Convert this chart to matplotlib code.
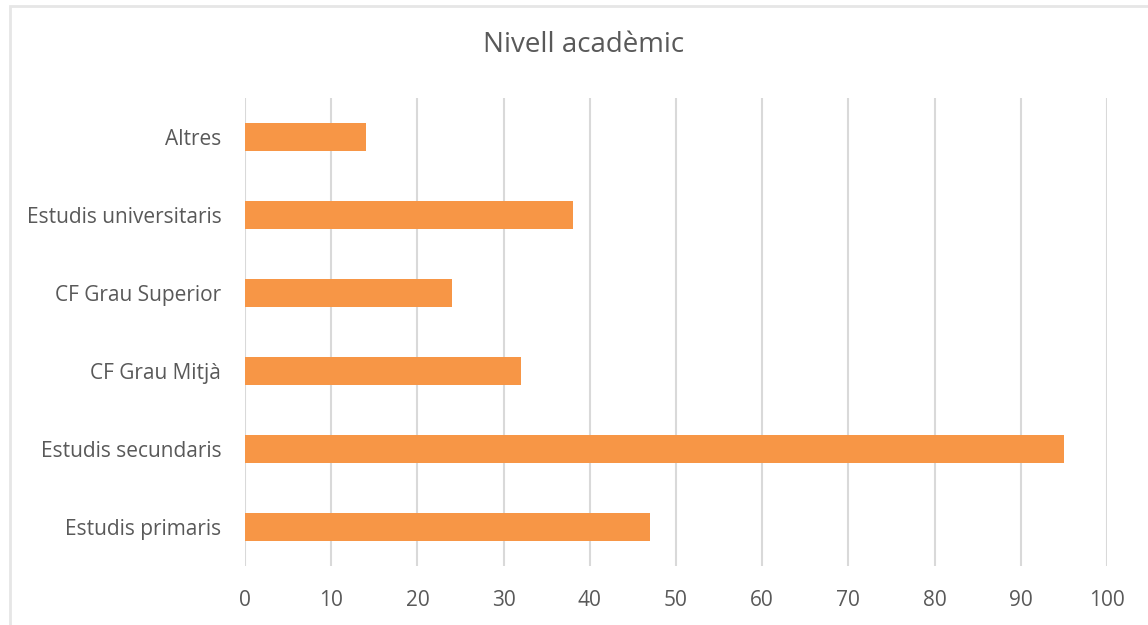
import matplotlib.pyplot as plt
import matplotlib.patches as mpatches

categories = ['Estudis primaris', 'Estudis secundaris', 'CF Grau Mitjà',
              'CF Grau Superior', 'Estudis universitaris', 'Altres']
values = [47, 95, 32, 24, 38, 14]
xticks = list(range(0, 101, 10))

plt.rcParams['font.family'] = ['Open Sans', 'DejaVu Sans']
text_color = '#595959'

fig = plt.figure(figsize=(11.48, 6.25), dpi=100)
ax = fig.add_axes([0.2134, 0.0944, 0.7509, 0.7488])

ax.barh(range(len(categories)), values, height=0.35, color='#F79646', zorder=3)
ax.set_xlim(0, 100)
ax.set_ylim(-0.5, len(categories) - 0.5)
ax.set_xticks(xticks)
ax.set_yticks(range(len(categories)))
ax.set_yticklabels(categories)
ax.tick_params(axis='both', length=0, colors=text_color, labelsize=15)
ax.tick_params(axis='x', pad=17)
ax.tick_params(axis='y', pad=17)
ax.grid(axis='x', color='#D9D9D9', linewidth=1.5, zorder=0)
for s in ax.spines.values():
    s.set_visible(False)

fig.text(0.508, 0.928, 'Nivell acadèmic', ha='center', va='center',
         fontsize=20, color=text_color)

# light chart-area border (only left and top edges fall inside the image)
border = mpatches.Rectangle((0.0087, -0.05), 1.1, 0.0404 + 1.0, transform=fig.transFigure,
                            fill=False, edgecolor='#E6E6E6', linewidth=2)
fig.patches.append(border)

plt.savefig('out.png', dpi=100)
